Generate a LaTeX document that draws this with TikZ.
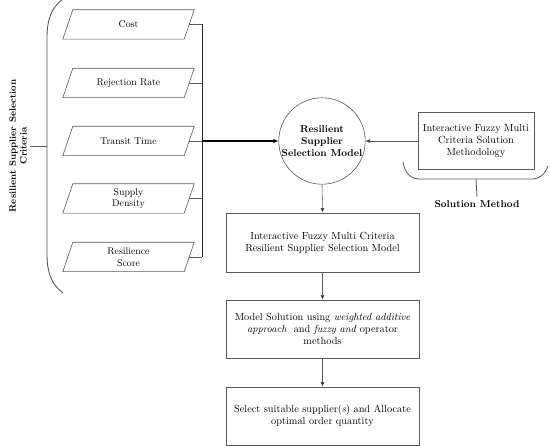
\documentclass[tikz,border=0pt]{standalone}
\usetikzlibrary{arrows.meta}
\begin{document}
\begin{tikzpicture}[x=1pt,y=-1pt,
  every node/.style={font=\fontsize{10.3}{12.2}\selectfont, align=center},
  ln/.style={draw=black!65, line width=0.6pt},
  crit/.style={minimum width=121pt, minimum height=29pt, inner sep=1pt, font=\fontsize{9.8}{11.5}\selectfont},
  pbox/.style={draw=black!65, line width=0.6pt, minimum width=193pt, minimum height=58pt, inner sep=2pt},
  arr/.style={ln, -{Latex[length=4.5pt,width=4pt,fill=black]}},
  lbl/.style={font=\fontsize{9.3}{10.8}\selectfont\bfseries}
]
\useasboundingbox (0,0) rectangle (550,446);
% criteria
\node[crit] (c1) at (128.5,24.5) {Cost};
\node[crit] (c2) at (128.5,83) {Rejection Rate};
\node[crit] (c3) at (128.5,141) {Transit Time};
\node[crit] (c4) at (128.5,198.5) {Supply\\Density};
\node[crit] (c5) at (128.5,257) {Resilience\\Score};
\foreach \n in {c1,c2,c3,c4,c5}
  \draw[ln] ([xshift=-5pt]\n.south west) -- ([xshift=5pt]\n.north west) -- ([xshift=5pt]\n.north east) -- ([xshift=-5pt]\n.south east) -- cycle;
% collector
\coordinate (t1) at (202,24.5);
\coordinate (t2) at (202,83);
\coordinate (t3) at (202,141);
\coordinate (t4) at (202,198.5);
\coordinate (t5) at (202,257);
\foreach \i in {1,2,3,4,5} \draw[ln] (c\i.east) -- (t\i);
\draw[black!85, line width=0.7pt] (t1) -- (t5);
% circle
\node[circle, draw=black!65, line width=0.6pt, minimum size=86pt, inner sep=0pt, font=\fontsize{10}{12}\selectfont\bfseries] (m) at (322,141) {Resilient\\Supplier\\Selection Model};
\draw[black, line width=1.1pt, -{Latex[length=5pt,width=4.5pt]}] (t3) -- (m.west);
% solution method box
\node[draw=black!65, line width=0.6pt, minimum width=116pt, minimum height=57pt, inner sep=1pt] (s) at (476,141) {Interactive Fuzzy Multi\\Criteria Solution\\Methodology};
\draw[arr] (s.west) -- (m.east);
% bracket under solution box
\draw[ln, line width=0.8pt] (403,162) .. controls (405,173) and (410,179) .. (420,179) -- (532,179) .. controls (540,179) and (545,174) .. (548,166);
\coordinate (sm) at (476,179);
\node[lbl, font=\fontsize{10}{11.5}\selectfont\bfseries] (sml) at (477,204) {Solution Method};
\draw[ln, line width=0.8pt] (sm) -- (sml.north);
% left brace
\draw[draw=black!65, line width=0.9pt] (63,-1) .. controls (51,8) and (47,20) .. (47,38) -- (47,254) .. controls (47,272) and (51,284) .. (63,293);
\coordinate (lb) at (47,146);
\node[lbl, rotate=90] (cl) at (18,146) {Resilient Supplier Selection\\Criteria};
\draw[ln, line width=0.8pt] (lb) -- (cl.south);
% process boxes
\node[pbox, minimum height=59pt] (b1) at (322.5,242.5) {Interactive Fuzzy Multi Criteria\\Resilient Supplier Selection Model};
\node[pbox] (b2) at (322.5,329) {Model Solution using \textit{weighted additive}\\\textit{approach}\ \ and \textit{fuzzy and} operator\\methods};
\node[pbox] (b3) at (322.5,416) {Select suitable supplier(\textit{s}) and Allocate\\optimal order quantity};
\draw[arr] (m.south) -- (b1.north);
\draw[arr] (b1.south) -- (b2.north);
\draw[arr] (b2.south) -- (b3.north);
\end{tikzpicture}
\end{document}
